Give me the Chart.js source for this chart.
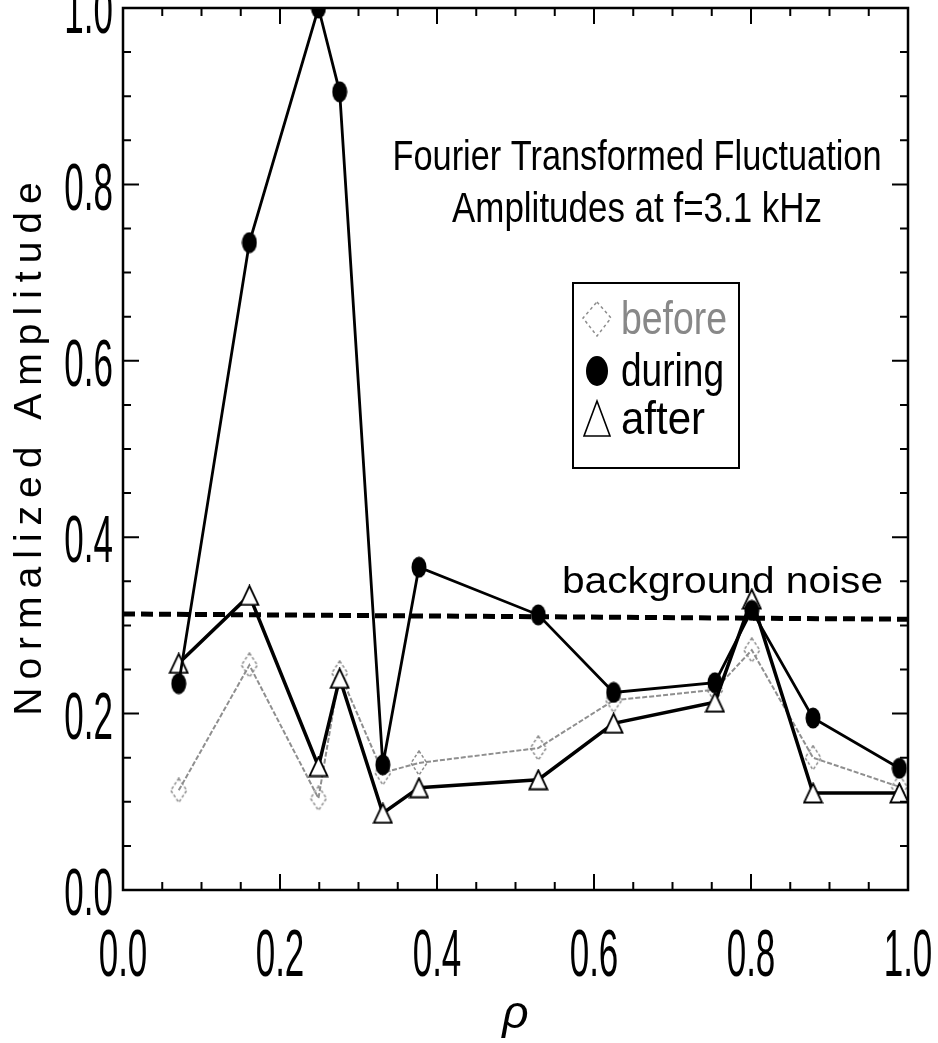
<!DOCTYPE html>
<html>
<head>
<meta charset="utf-8">
<script src="https://cdn.jsdelivr.net/npm/chart.js@4.4.0/dist/chart.umd.min.js"></script>
<style>
html, body { margin: 0; padding: 0; background: #fff; }
</style>
</head>
<body>
<canvas id="chart" width="938" height="1043"></canvas>
<script>
// normalized radius positions shared by all three series
const rho = [0.071, 0.161, 0.249, 0.276, 0.331, 0.377, 0.529, 0.625, 0.754, 0.801, 0.879, 0.989];
const before = [0.113, 0.255, 0.104, 0.246, 0.133, 0.144, 0.161, 0.215, 0.227, 0.272, 0.150, 0.117];
const during = [0.234, 0.734, 1.000, 0.905, 0.142, 0.366, 0.312, 0.224, 0.235, 0.317, 0.195, 0.138];
const after  = [0.257, 0.334, 0.140, 0.240, 0.087, 0.116, 0.125, 0.189, 0.213, 0.330, 0.110, 0.110];
const noiseX = [0, 1];
const noiseY = [0.313, 0.307];
const xTicks = [0.0, 0.2, 0.4, 0.6, 0.8, 1.0];
const yTicks = [0.0, 0.2, 0.4, 0.6, 0.8, 1.0];

const toPts = (xs, ys) => xs.map((x, i) => ({ x: x, y: ys[i] }));

// marker images
function makeEllipse(w, h) {
    const c = document.createElement('canvas');
    c.width = w; c.height = h;
    const g = c.getContext('2d');
    g.fillStyle = '#000';
    g.beginPath();
    g.ellipse(w / 2, h / 2, w / 2 - 0.5, h / 2 - 0.5, 0, 0, Math.PI * 2);
    g.fill();
    return c;
}
function makeDiamond(w, h) {
    const c = document.createElement('canvas');
    c.width = w; c.height = h;
    const g = c.getContext('2d');
    g.strokeStyle = '#8c8c8c';
    g.lineWidth = 1.5;
    g.setLineDash([3, 2]);
    g.beginPath();
    g.moveTo(w / 2, 1); g.lineTo(w - 1, h / 2); g.lineTo(w / 2, h - 1); g.lineTo(1, h / 2);
    g.closePath();
    g.stroke();
    return c;
}
function makeTriangle(w, h) {
    const c = document.createElement('canvas');
    c.width = w; c.height = h;
    const g = c.getContext('2d');
    g.fillStyle = '#fff';
    g.strokeStyle = '#000';
    g.lineWidth = 1.8;
    g.beginPath();
    g.moveTo(w / 2, 1.5); g.lineTo(w - 1.5, h - 1.5); g.lineTo(1.5, h - 1.5);
    g.closePath();
    g.fill();
    g.stroke();
    return c;
}

const dot = makeEllipse(16, 22);
const dia = makeDiamond(18, 26);
const tri = makeTriangle(21, 22);

function drawText(ctx, text, x, y, w, font, align, color) {
    ctx.save();
    ctx.font = font;
    ctx.fillStyle = color || '#000';
    const m = ctx.measureText(text).width;
    ctx.translate(x, y);
    ctx.scale(w / m, 1);
    ctx.textAlign = align;
    ctx.textBaseline = 'alphabetic';
    ctx.fillText(text, 0, 0);
    ctx.restore();
}

const decorations = {
    id: 'decorations',
    afterDraw(chart) {
        const ctx = chart.ctx;
        const a = chart.chartArea;
        const xs = chart.scales.x, ys = chart.scales.y;
        ctx.save();

        // frame
        ctx.strokeStyle = '#000';
        ctx.lineWidth = 2.5;
        ctx.strokeRect(a.left, a.top, a.right - a.left, a.bottom - a.top);

        // inward ticks on all four sides
        ctx.lineWidth = 2;
        ctx.beginPath();
        for (let k = 0; k <= 20; k++) {
            const v = k * 0.05;
            const len = (k % 4 === 0) ? 16 : 8;
            const px = xs.getPixelForValue(v);
            const py = ys.getPixelForValue(v);
            ctx.moveTo(px, a.bottom); ctx.lineTo(px, a.bottom - len);
            ctx.moveTo(px, a.top); ctx.lineTo(px, a.top + len);
            ctx.moveTo(a.left, py); ctx.lineTo(a.left + len, py);
            ctx.moveTo(a.right, py); ctx.lineTo(a.right - len, py);
        }
        ctx.stroke();

        // tick labels, tall and narrow
        ctx.fillStyle = '#000';
        ctx.font = '66px "Liberation Sans"';
        ctx.textBaseline = 'middle';
        yTicks.forEach(v => {
            const py = ys.getPixelForValue(v) + 7;
            ctx.save();
            ctx.translate(a.left - 10, py);
            ctx.scale(0.53, 1);
            ctx.textAlign = 'right';
            ctx.fillText(v.toFixed(1), 0, 0);
            ctx.restore();
        });
        xTicks.forEach(v => {
            const px = xs.getPixelForValue(v);
            ctx.save();
            ctx.translate(px, a.bottom + 68);
            ctx.scale(0.53, 1);
            ctx.textAlign = 'center';
            ctx.fillText(v.toFixed(1), 0, 0);
            ctx.restore();
        });

        // axis titles
        ctx.save();
        ctx.translate(41, (a.top + a.bottom) / 2);
        ctx.rotate(-Math.PI / 2);
        ctx.font = '39px "Liberation Sans"';
        ctx.letterSpacing = '8px';
        ctx.textAlign = 'center';
        ctx.textBaseline = 'alphabetic';
        ctx.fillText('Normalized Amplitude', 4, 0);
        ctx.restore();

        ctx.save();
        ctx.font = 'italic 46px "Liberation Sans"';
        ctx.textAlign = 'center';
        ctx.textBaseline = 'alphabetic';
        ctx.fillText('\u03C1', (a.left + a.right) / 2, 1028);
        ctx.restore();

        // annotation text
        drawText(ctx, 'Fourier Transformed Fluctuation', 637, 170, 489, '42px "Liberation Sans"', 'center');
        drawText(ctx, 'Amplitudes at f=3.1 kHz', 637, 222, 370, '42px "Liberation Sans"', 'center');
        drawText(ctx, 'background noise', 562, 593, 321, '37px "Liberation Sans"', 'left');

        // legend box
        ctx.lineWidth = 2;
        ctx.strokeStyle = '#000';
        ctx.strokeRect(573, 283, 166, 185);
        const rows = [
            { y: 318, label: 'before', w: 106, color: '#888' },
            { y: 370, label: 'during', w: 103, color: '#000' },
            { y: 418, label: 'after', w: 84, color: '#000' }
        ];
        // diamond
        ctx.save();
        ctx.strokeStyle = '#8c8c8c';
        ctx.lineWidth = 1.5;
        ctx.setLineDash([3, 3]);
        ctx.beginPath();
        ctx.moveTo(597, 302); ctx.lineTo(611, 318); ctx.lineTo(597, 336); ctx.lineTo(583, 318);
        ctx.closePath();
        ctx.stroke();
        ctx.restore();
        // filled ellipse
        ctx.beginPath();
        ctx.ellipse(597, 371, 11, 15, 0, 0, Math.PI * 2);
        ctx.fillStyle = '#000';
        ctx.fill();
        // triangle
        ctx.beginPath();
        ctx.moveTo(597, 401); ctx.lineTo(610, 436); ctx.lineTo(584, 436);
        ctx.closePath();
        ctx.lineWidth = 1.6;
        ctx.stroke();
        rows.forEach(r => {
            drawText(ctx, r.label, 621, r.y + 16, r.w, '46px "Liberation Sans"', 'left', r.color);
        });

        ctx.restore();
    }
};

new Chart(document.getElementById('chart'), {
    type: 'line',
    data: {
        datasets: [{
            label: 'during',
            data: toPts(rho, during),
            borderColor: '#000',
            borderWidth: 2.8,
            pointStyle: dot,
            tension: 0
        }, {
            label: 'after',
            data: toPts(rho, after),
            borderColor: '#000',
            borderWidth: 3.5,
            pointStyle: tri,
            tension: 0
        }, {
            label: 'before',
            data: toPts(rho, before),
            borderColor: '#8f8f8f',
            borderWidth: 2,
            borderDash: [5, 2],
            pointStyle: dia,
            tension: 0
        }, {
            label: 'background noise',
            data: toPts(noiseX, noiseY),
            borderColor: '#000',
            borderWidth: 5,
            borderDash: [12, 6],
            pointRadius: 0,
            tension: 0
        }]
    },
    options: {
        responsive: false,
        animation: false,
        devicePixelRatio: 1,
        layout: { padding: { left: 123, right: 30, top: 8, bottom: 153 } },
        plugins: {
            legend: { display: false },
            tooltip: { enabled: false }
        },
        scales: {
            x: {
                type: 'linear', min: 0, max: 1,
                ticks: { display: false },
                grid: { display: false, drawTicks: false },
                border: { display: false }
            },
            y: {
                type: 'linear', min: 0, max: 1,
                ticks: { display: false },
                grid: { display: false, drawTicks: false },
                border: { display: false }
            }
        }
    },
    plugins: [decorations]
});
</script>
</body>
</html>
